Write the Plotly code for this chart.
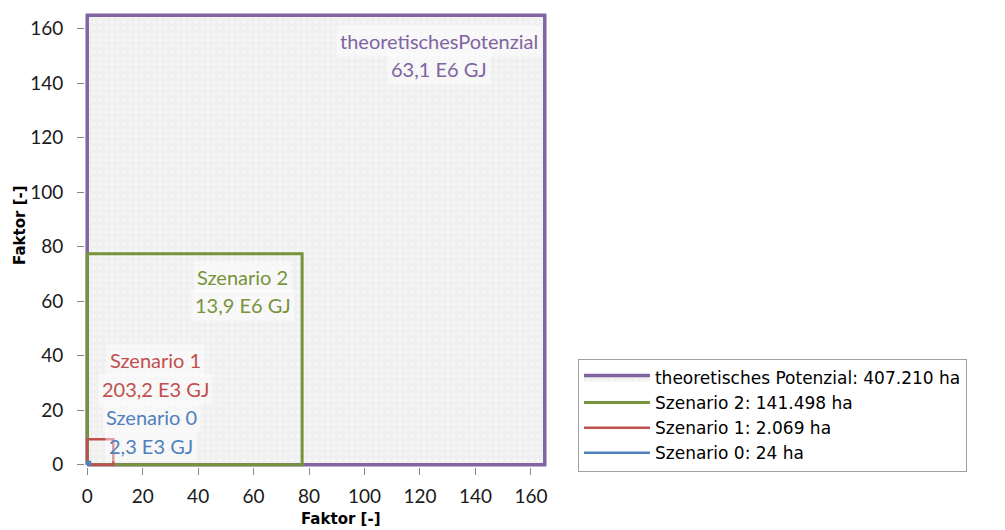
import plotly.graph_objects as go

# Data
names = ["theoretisches Potenzial: 407.210 ha", "Szenario 2: 141.498 ha",
         "Szenario 1: 2.069 ha", "Szenario 0: 24 ha"]
sides = [165.0, 77.5, 9.4, 1.0]          # Faktor [-] (square side length)
label_titles = ["theoretischesPotenzial", "Szenario 2", "Szenario 1", "Szenario 0"]
label_values = ["63,1 E6 GJ", "13,9 E6 GJ", "203,2 E3 GJ", "2,3 E3 GJ"]
tick_vals = [0, 20, 40, 60, 80, 100, 120, 140, 160]

# Styles / label placement (data coordinates: x centre, y of line 1, y of line 2)
colors = ["#8064a2", "#77933c", "#c0504d", "#4f81bd"]
widths = [3.5, 3, 2.5, 2.5]
label_pos = [(127, 155.5, 145.3), (56, 69, 58.7), (24.5, 38.5, 28.0), (23, 17.6, 6.8)]

fig = go.Figure()
for i, (n, s, c, w) in enumerate(zip(names, sides, colors, widths)):
    kw = {}
    if i == 0:
        kw = dict(fill="toself", fillcolor="#f2f2f2",
                  fillpattern=dict(shape=".", fgcolor="#ffffff", bgcolor="#f0f0f0",
                                   size=6, solidity=0.2))
    fig.add_trace(go.Scatter(x=[0, s, s, 0, 0], y=[0, 0, s, s, 0], mode="lines",
                             name=n, line=dict(color=c, width=w), **kw))

lab_font = "Lato"
for (t, v, c, (xc, y1, y2)) in zip(label_titles, label_values, colors, label_pos):
    for txt, yy in ((t, y1), (v, y2)):
        fig.add_annotation(x=xc, y=yy, xref="x", yref="y", text=txt, showarrow=False,
                           font=dict(family=lab_font, size=20, color=c),
                           bgcolor="rgba(255,255,255,0.45)", borderpad=3,
                           align="center")

# Axis titles
fig.add_annotation(text="<b>Faktor [-]</b>", xref="paper", yref="paper",
                   x=0.554, y=-0.1145, showarrow=False, yanchor="middle",
                   font=dict(family="DejaVu Sans", size=15, color="#000000"))
fig.add_annotation(text="<b>Faktor [-]</b>", xref="paper", yref="paper",
                   x=-0.141, y=0.533, showarrow=False, textangle=-90, xanchor="center",
                   yanchor="middle",
                   font=dict(family="DejaVu Sans", size=15, color="#000000"))

axis_common = dict(range=[-0.8, 165.8], tickvals=tick_vals, ticks="outside", ticklen=7,
                   tickcolor="#868686", showgrid=False, zeroline=False, showline=False,
                   tickfont=dict(family="Lato", size=19, color="#1a1a1a"))
fig.update_xaxes(**axis_common, ticklabelstandoff=5)
fig.update_yaxes(**axis_common, ticklabelstandoff=10)

fig.update_layout(
    width=1005, height=530,
    margin=dict(l=85, r=458, t=13, b=63),
    plot_bgcolor="#ffffff", paper_bgcolor="#ffffff",
    showlegend=True,
    legend=dict(x=1.067, y=0.238, xanchor="left", yanchor="top",
                bordercolor="#a0a0a0", borderwidth=1, bgcolor="#ffffff",
                font=dict(family="DejaVu Sans", size=17, color="#000000"),
                tracegroupgap=0, itemwidth=66),
)

fig.write_html("out.html")
